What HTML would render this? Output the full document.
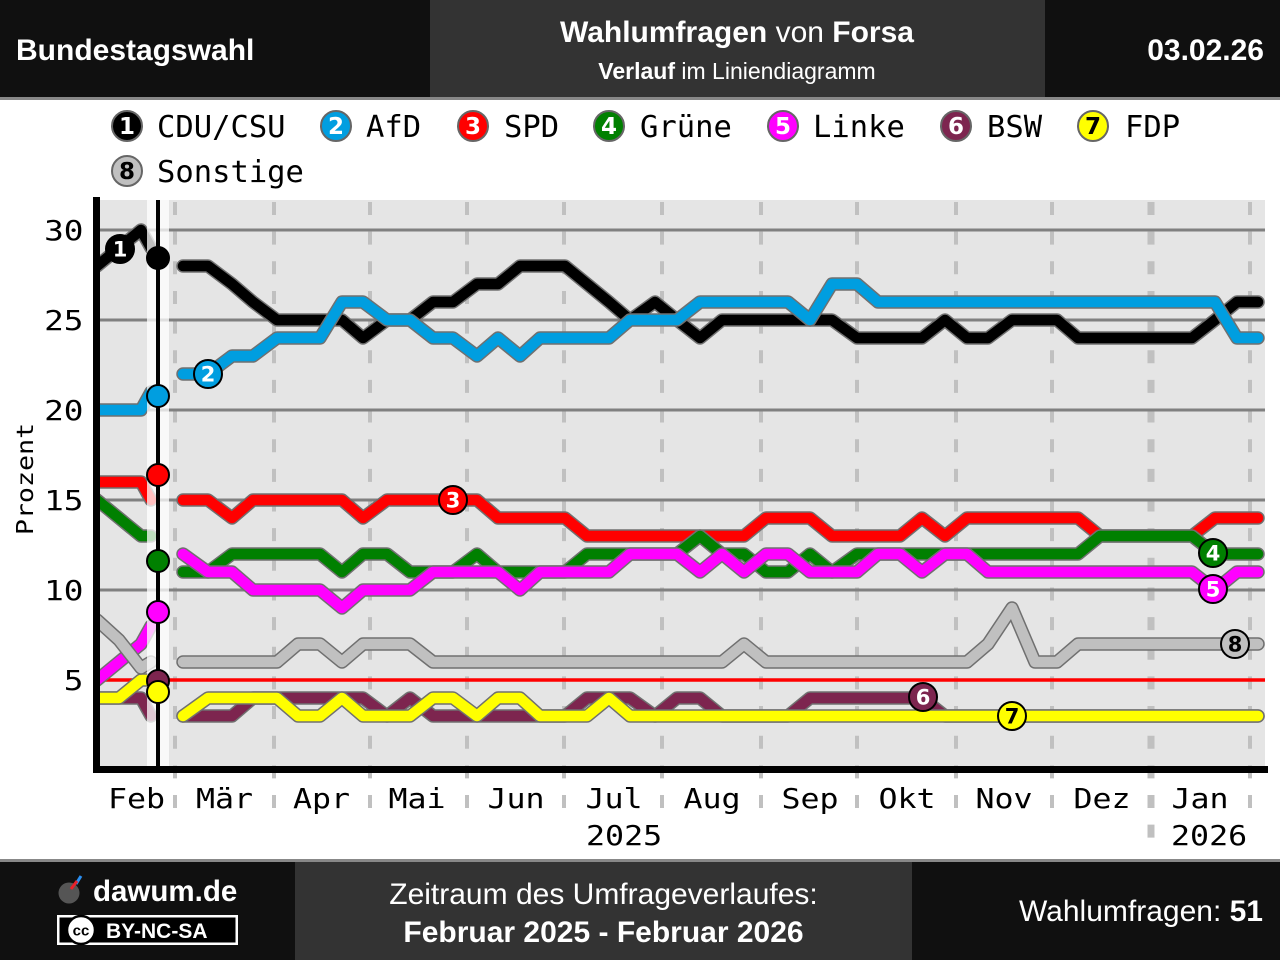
<!DOCTYPE html>
<html><head><meta charset="utf-8"><style>
html,body{margin:0;padding:0;background:#fff;width:1280px;height:960px;overflow:hidden}
svg{display:block}
.o{fill:none;stroke:#707070;stroke-width:13.5;stroke-linejoin:round;stroke-linecap:round}
.c{fill:none;stroke-width:10.5;stroke-linejoin:round;stroke-linecap:round}
.ml{stroke:#c0c0c0;stroke-width:4;stroke-dasharray:13 16.65}
.gl{stroke:#808080;stroke-width:3}
.ax{font-family:"DejaVu Sans Mono","Liberation Mono",monospace;font-size:27.5px;fill:#000}
.lg{font-family:"DejaVu Sans Mono","Liberation Mono",monospace;font-size:30.5px;fill:#000}
.num{font-family:"DejaVu Sans","Liberation Sans",sans-serif;font-weight:bold;text-anchor:middle}
.hd{font-family:"Liberation Sans",Arial,sans-serif;fill:#fff}
</style></head><body>
<svg width="1280" height="960" viewBox="0 0 1280 960" xmlns="http://www.w3.org/2000/svg">
<defs>
<clipPath id="pre"><rect x="100" y="200" width="70" height="566"/></clipPath>
</defs>
<!-- header -->
<rect x="0" y="0" width="430" height="97" fill="#101010"/>
<rect x="430" y="0" width="615" height="97" fill="#333333"/>
<rect x="1045" y="0" width="235" height="97" fill="#101010"/>
<rect x="0" y="97" width="1280" height="3" fill="#888"/>
<text class="hd" x="16" y="60" font-size="30" font-weight="bold">Bundestagswahl</text>
<text class="hd" x="737" y="42" font-size="30" text-anchor="middle"><tspan font-weight="bold">Wahlumfragen</tspan> von <tspan font-weight="bold">Forsa</tspan></text>
<text class="hd" x="737" y="79" font-size="23" text-anchor="middle"><tspan font-weight="bold">Verlauf</tspan> im Liniendiagramm</text>
<text class="hd" x="1264" y="60" font-size="30" font-weight="bold" text-anchor="end">03.02.26</text>

<!-- legend -->
<g stroke="#666" stroke-width="2">
<circle cx="127" cy="126" r="15" fill="#000"/>
<circle cx="336" cy="126" r="15" fill="#009ee0"/>
<circle cx="473" cy="126" r="15" fill="#ff0000"/>
<circle cx="609" cy="126" r="15" fill="#008000"/>
<circle cx="783" cy="126" r="15" fill="#ff00ff"/>
<circle cx="956" cy="126" r="15" fill="#7d254f"/>
<circle cx="1093" cy="126" r="15" fill="#ffff00"/>
<circle cx="127" cy="171" r="15" fill="#c0c0c0"/>
</g>
<g class="num" font-size="23">
<text x="127" y="134" fill="#fff">1</text>
<text x="336" y="134" fill="#fff">2</text>
<text x="473" y="134" fill="#fff">3</text>
<text x="609" y="134" fill="#fff">4</text>
<text x="783" y="134" fill="#fff">5</text>
<text x="956" y="134" fill="#fff">6</text>
<text x="1093" y="134" fill="#000">7</text>
<text x="127" y="179" fill="#000">8</text>
</g>
<g class="lg">
<text x="157" y="137">CDU/CSU</text>
<text x="366" y="137">AfD</text>
<text x="504" y="137">SPD</text>
<text x="640" y="137">Grüne</text>
<text x="813" y="137">Linke</text>
<text x="987" y="137">BSW</text>
<text x="1125" y="137">FDP</text>
<text x="157" y="182">Sonstige</text>
</g>

<!-- plot background -->
<rect x="100" y="200" width="1165" height="566" fill="#e5e5e5"/>
<!-- month dashed lines -->
<g>
<line class="ml" x1="175" y1="202" x2="175" y2="810"/>
<line class="ml" x1="274" y1="202" x2="274" y2="810"/>
<line class="ml" x1="370" y1="202" x2="370" y2="810"/>
<line class="ml" x1="467" y1="202" x2="467" y2="810"/>
<line class="ml" x1="564" y1="202" x2="564" y2="810"/>
<line class="ml" x1="662" y1="202" x2="662" y2="810"/>
<line class="ml" x1="761" y1="202" x2="761" y2="810"/>
<line class="ml" x1="857" y1="202" x2="857" y2="810"/>
<line class="ml" x1="956" y1="202" x2="956" y2="810"/>
<line class="ml" x1="1052" y1="202" x2="1052" y2="810"/>
<line class="ml" x1="1151" y1="202" x2="1151" y2="848" style="stroke-width:7"/>
<line class="ml" x1="1250" y1="202" x2="1250" y2="810"/>
</g>
<!-- grid -->
<line class="gl" x1="100" y1="230" x2="1265" y2="230"/>
<line class="gl" x1="100" y1="320" x2="1265" y2="320"/>
<line class="gl" x1="100" y1="410" x2="1265" y2="410"/>
<line class="gl" x1="100" y1="500" x2="1265" y2="500"/>
<line class="gl" x1="100" y1="590" x2="1265" y2="590"/>
<line x1="100" y1="680" x2="1265" y2="680" stroke="#ff0000" stroke-width="3.5"/>

<!-- pre-election lines -->
<g clip-path="url(#pre)">
<polyline class="o" points="80,266 97,266 119,248 141,230 151,248"/>
<polyline class="c" stroke="#000" points="80,266 97,266 119,248 141,230 151,248"/>
<polyline class="o" points="80,410 141,410 151,392"/>
<polyline class="c" stroke="#009ee0" points="80,410 141,410 151,392"/>
<polyline class="o" points="80,482 141,482 151,500"/>
<polyline class="c" stroke="#ff0000" points="80,482 141,482 151,500"/>
<polyline class="o" points="80,486 97,500 119,518 141,536 151,536"/>
<polyline class="c" stroke="#008000" points="80,486 97,500 119,518 141,536 151,536"/>
<polyline class="o" points="75,698 97,680 119,662 141,644 151,626"/>
<polyline class="c" stroke="#ff00ff" points="75,698 97,680 119,662 141,644 151,626"/>
<polyline class="o" points="80,698 141,698 151,716"/>
<polyline class="c" stroke="#7d254f" points="80,698 141,698 151,716"/>
<polyline class="o" points="80,698 119,698 141,680 151,680"/>
<polyline class="c" stroke="#ffff00" points="80,698 119,698 141,680 151,680"/>
<polyline class="o" points="80,612 97,620 119,640 141,668 151,662"/>
<polyline class="c" stroke="#c0c0c0" points="80,612 97,620 119,640 141,668 151,662"/>
</g>

<!-- CDU -->
<polyline class="o" points="183,266 208,266 232,284 253,302 277,320 342,320 363,338 387,320 410,320 433,302 453,302 477,284 498,284 520,266 565,266 587,284 609,302 630,320 655,302 677,320 700,338 722,320 832,320 857,338 922,338 945,320 967,338 988,338 1012,320 1057,320 1078,338 1192,338 1215,320 1237,302 1258,302"/>
<polyline class="c" stroke="#000" points="183,266 208,266 232,284 253,302 277,320 342,320 363,338 387,320 410,320 433,302 453,302 477,284 498,284 520,266 565,266 587,284 609,302 630,320 655,302 677,320 700,338 722,320 832,320 857,338 922,338 945,320 967,338 988,338 1012,320 1057,320 1078,338 1192,338 1215,320 1237,302 1258,302"/>
<!-- AfD -->
<polyline class="o" points="183,374 208,374 232,356 253,356 277,338 320,338 342,302 363,302 387,320 410,320 433,338 453,338 477,356 498,338 520,356 540,338 609,338 630,320 677,320 700,302 788,302 810,320 832,284 857,284 878,302 1215,302 1237,338 1258,338"/>
<polyline class="c" stroke="#009ee0" points="183,374 208,374 232,356 253,356 277,338 320,338 342,302 363,302 387,320 410,320 433,338 453,338 477,356 498,338 520,356 540,338 609,338 630,320 677,320 700,302 788,302 810,320 832,284 857,284 878,302 1215,302 1237,338 1258,338"/>
<!-- SPD -->
<polyline class="o" points="183,500 208,500 232,518 253,500 342,500 363,518 387,500 477,500 498,518 565,518 587,536 744,536 766,518 810,518 832,536 900,536 922,518 945,536 967,518 1078,518 1100,536 1192,536 1215,518 1258,518"/>
<polyline class="c" stroke="#ff0000" points="183,500 208,500 232,518 253,500 342,500 363,518 387,500 477,500 498,518 565,518 587,536 744,536 766,518 810,518 832,536 900,536 922,518 945,536 967,518 1078,518 1100,536 1192,536 1215,518 1258,518"/>
<!-- Grüne -->
<polyline class="o" points="183,572 208,572 232,554 320,554 342,572 363,554 387,554 410,572 453,572 477,554 498,572 565,572 587,554 677,554 700,536 722,554 744,554 766,572 788,572 810,554 832,572 857,554 1078,554 1100,536 1192,536 1215,554 1258,554"/>
<polyline class="c" stroke="#008000" points="183,572 208,572 232,554 320,554 342,572 363,554 387,554 410,572 453,572 477,554 498,572 565,572 587,554 677,554 700,536 722,554 744,554 766,572 788,572 810,554 832,572 857,554 1078,554 1100,536 1192,536 1215,554 1258,554"/>
<!-- Linke -->
<polyline class="o" points="183,554 208,572 232,572 253,590 320,590 342,608 363,590 410,590 433,572 498,572 520,590 540,572 609,572 630,554 677,554 700,572 722,554 744,572 766,554 788,554 810,572 857,572 878,554 900,554 922,572 945,554 967,554 988,572 1192,572 1215,590 1237,572 1258,572"/>
<polyline class="c" stroke="#ff00ff" points="183,554 208,572 232,572 253,590 320,590 342,608 363,590 410,590 433,572 498,572 520,590 540,572 609,572 630,554 677,554 700,572 722,554 744,572 766,554 788,554 810,572 857,572 878,554 900,554 922,572 945,554 967,554 988,572 1192,572 1215,590 1237,572 1258,572"/>
<!-- BSW -->
<polyline class="o" points="183,716 232,716 253,698 363,698 387,716 410,698 433,716 565,716 587,698 630,698 655,716 677,698 700,698 722,716 788,716 810,698 922,698 945,716 1258,716"/>
<polyline class="c" stroke="#7d254f" points="183,716 232,716 253,698 363,698 387,716 410,698 433,716 565,716 587,698 630,698 655,716 677,698 700,698 722,716 788,716 810,698 922,698 945,716 1258,716"/>
<!-- FDP -->
<polyline class="o" points="183,716 208,698 277,698 298,716 320,716 342,698 363,716 410,716 433,698 453,698 477,716 498,698 520,698 540,716 587,716 609,698 630,716 1258,716"/>
<polyline class="c" stroke="#ffff00" points="183,716 208,698 277,698 298,716 320,716 342,698 363,716 410,716 433,698 453,698 477,716 498,698 520,698 540,716 587,716 609,698 630,716 1258,716"/>
<!-- Sonstige -->
<polyline class="o" points="183,662 277,662 298,644 320,644 342,662 363,644 410,644 433,662 722,662 744,644 766,662 967,662 988,644 1012,608 1035,662 1057,662 1078,644 1258,644"/>
<polyline class="c" stroke="#c0c0c0" points="183,662 277,662 298,644 320,644 342,662 363,644 410,644 433,662 722,662 744,644 766,662 967,662 988,644 1012,608 1035,662 1057,662 1078,644 1258,644"/>

<!-- election band -->
<rect x="147" y="200" width="22" height="566" fill="#ffffff" opacity="0.75"/>
<rect x="156" y="200" width="4" height="566" fill="#000"/>
<g stroke="#000" stroke-width="2">
<circle cx="158" cy="258" r="11" fill="#000"/>
<circle cx="158" cy="396" r="11" fill="#009ee0"/>
<circle cx="158" cy="475" r="11" fill="#ff0000"/>
<circle cx="158" cy="561" r="11" fill="#008000"/>
<circle cx="158" cy="612" r="11" fill="#ff00ff"/>
<circle cx="158" cy="681" r="11" fill="#7d254f"/>
<circle cx="158" cy="692" r="11" fill="#ffff00"/>
</g>

<!-- axes -->
<rect x="93" y="197" width="7" height="576" fill="#000"/>
<rect x="93" y="766" width="1175" height="7" fill="#000"/>

<!-- series labels -->
<g stroke="#000" stroke-width="2">
<circle cx="120" cy="249" r="14" fill="#000"/>
<circle cx="208" cy="374" r="14" fill="#009ee0"/>
<circle cx="453" cy="500" r="14" fill="#ff0000"/>
<circle cx="1213" cy="553" r="14" fill="#008000"/>
<circle cx="1213" cy="589" r="14" fill="#ff00ff"/>
<circle cx="923" cy="697" r="14" fill="#7d254f"/>
<circle cx="1012" cy="716" r="14" fill="#ffff00"/>
<circle cx="1235" cy="644" r="14" fill="#c0c0c0"/>
</g>
<g class="num" font-size="21">
<text x="120" y="256.5" fill="#fff">1</text>
<text x="208" y="381.5" fill="#fff">2</text>
<text x="453" y="507.5" fill="#fff">3</text>
<text x="1213" y="560.5" fill="#fff">4</text>
<text x="1213" y="596.5" fill="#fff">5</text>
<text x="923" y="704.5" fill="#fff">6</text>
<text x="1012" y="723.5" fill="#000">7</text>
<text x="1235" y="651.5" fill="#000">8</text>
</g>

<!-- y axis labels -->
<g class="ax" text-anchor="end">
<text transform="translate(83.5,240) scale(1.19,1)">30</text>
<text transform="translate(83.5,330) scale(1.19,1)">25</text>
<text transform="translate(83.5,420) scale(1.19,1)">20</text>
<text transform="translate(83.5,510) scale(1.19,1)">15</text>
<text transform="translate(83.5,600) scale(1.19,1)">10</text>
<text transform="translate(83.5,690) scale(1.19,1)">5</text>
</g>
<text class="ax" style="font-size:23px" text-anchor="middle" transform="translate(33,479) rotate(-90) scale(1.16,1)">Prozent</text>

<!-- month labels -->
<g class="ax" text-anchor="middle">
<text transform="translate(136.5,808) scale(1.15,1)">Feb</text>
<text transform="translate(224.5,808) scale(1.15,1)">Mär</text>
<text transform="translate(321.5,808) scale(1.15,1)">Apr</text>
<text transform="translate(417,808) scale(1.15,1)">Mai</text>
<text transform="translate(516,808) scale(1.15,1)">Jun</text>
<text transform="translate(614,808) scale(1.15,1)">Jul</text>
<text transform="translate(712,808) scale(1.15,1)">Aug</text>
<text transform="translate(810,808) scale(1.15,1)">Sep</text>
<text transform="translate(907,808) scale(1.15,1)">Okt</text>
<text transform="translate(1004,808) scale(1.15,1)">Nov</text>
<text transform="translate(1102,808) scale(1.15,1)">Dez</text>
<text transform="translate(1200,808) scale(1.15,1)">Jan</text>
</g>
<g class="ax">
<text transform="translate(586,845) scale(1.15,1)">2025</text>
<text transform="translate(1171,845) scale(1.15,1)">2026</text>
</g>

<!-- footer -->
<rect x="0" y="859" width="1280" height="3" fill="#888"/>
<rect x="0" y="862" width="295" height="98" fill="#101010"/>
<rect x="295" y="862" width="617" height="98" fill="#333333"/>
<rect x="912" y="862" width="368" height="98" fill="#101010"/>
<circle cx="69" cy="893" r="10.5" fill="#555"/>
<line x1="76" y1="884" x2="81" y2="876" stroke="#2a8ef0" stroke-width="3"/>
<line x1="71" y1="889" x2="77" y2="881" stroke="#e8202a" stroke-width="3"/>
<text class="hd" x="93" y="901" font-size="29.5" font-weight="bold">dawum.de</text>
<rect x="57" y="915" width="181" height="30" fill="#fff"/>
<rect x="59.5" y="917.5" width="176" height="25" fill="#000"/>
<circle cx="81" cy="930" r="14" fill="#fff" stroke="#000" stroke-width="2.5"/>
<text x="81" y="935.5" font-family="'Liberation Sans',Arial,sans-serif" font-size="15" font-weight="bold" text-anchor="middle" fill="#000">cc</text>
<text class="hd" x="106" y="938" font-size="21" font-weight="bold">BY-NC-SA</text>
<text class="hd" x="603.5" y="904" font-size="30" text-anchor="middle">Zeitraum des Umfrageverlaufes:</text>
<text class="hd" x="603.5" y="942" font-size="30" font-weight="bold" text-anchor="middle">Februar 2025 - Februar 2026</text>
<text class="hd" x="1263" y="921" font-size="30" text-anchor="end">Wahlumfragen: <tspan font-weight="bold">51</tspan></text>
</svg>
</body></html>
